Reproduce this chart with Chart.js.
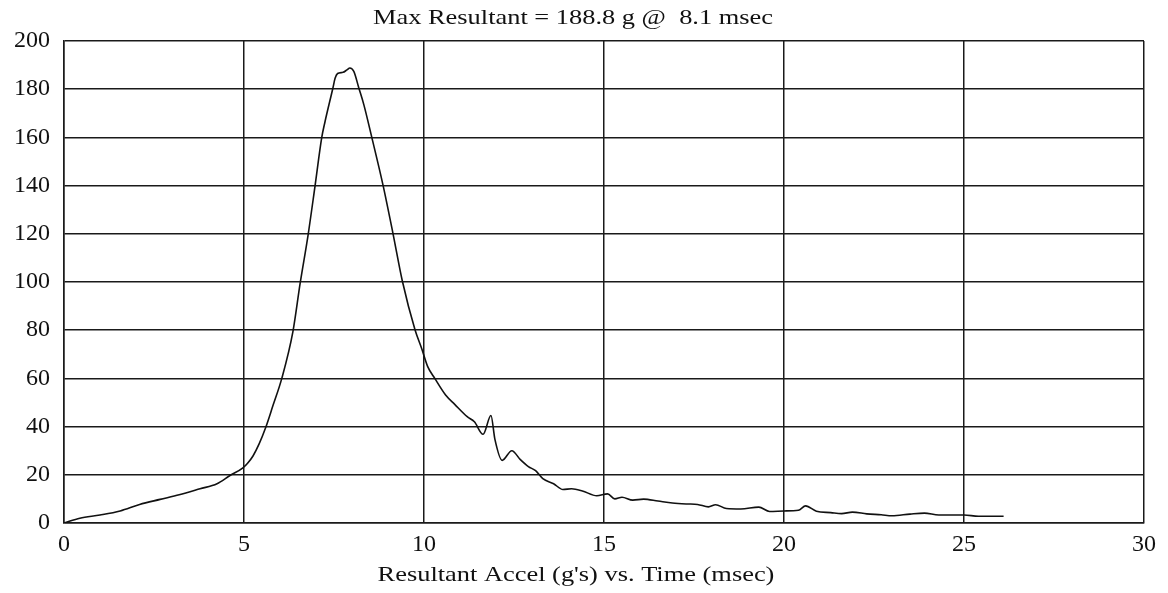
<!DOCTYPE html>
<html>
<head>
<meta charset="utf-8">
<script src="https://cdn.jsdelivr.net/npm/chart.js@4/dist/chart.umd.min.js"></script>
<style>
  html, body { margin: 0; padding: 0; background: #ffffff; }
  #wrap { width: 1168px; height: 593px; }
</style>
</head>
<body>
<div id="wrap"><canvas id="c" width="1168" height="593"></canvas></div>
<script>
// Data
const chartTitle = "Max Resultant = 188.8 g @  8.1 msec";
const xAxisTitle = "Resultant Accel (g's) vs. Time (msec)";
const xTicks = [0, 5, 10, 15, 20, 25, 30];
const yTicks = [0, 20, 40, 60, 80, 100, 120, 140, 160, 180, 200];

const timeMs = [
  0, 0.44, 1.0, 1.56, 2.1, 2.67, 3.2, 3.78, 4.25, 4.6, 4.97, 5.1, 5.25, 5.42, 5.6,
  5.8, 6.05, 6.36, 6.56, 6.78, 6.97, 7.16, 7.25, 7.47, 7.53, 7.6, 7.75, 7.86, 7.94,
  8.05, 8.19, 8.33, 8.55, 8.86, 9.14, 9.4, 9.75, 9.94, 10.1, 10.3, 10.6, 10.86,
  11.2, 11.4, 11.64, 11.86, 11.97, 12.17, 12.44, 12.67, 12.9, 13.1, 13.3, 13.6,
  13.86, 14.1, 14.4, 14.8, 15.1, 15.3, 15.5, 15.8, 16.1, 16.5, 16.9, 17.3, 17.6,
  17.9, 18.1, 18.4, 18.8, 19.3, 19.6, 20.0, 20.4, 20.6, 20.9, 21.3, 21.6, 21.9,
  22.3, 22.7, 23.0, 23.5, 23.9, 24.3, 25.0, 25.4, 26.1
];
const accelG = [
  0, 2, 3.3, 5, 7.7, 9.8, 11.7, 14.2, 16.3, 19.6, 22.9, 24.8, 27.8, 32.8, 39.5,
  48.5, 60, 79.5, 99.5, 119.5, 139.5, 160, 166.5, 180.5, 184.5, 186.5, 187, 188, 188.8,
  187.4, 180.5, 173.5, 160, 140.3, 120, 100.3, 80.2, 72.2, 65, 60, 53.1, 49.1,
  44.1, 42, 36.8, 44.6, 34.7, 26, 30, 26.4, 23.4, 21.7, 18.4, 16.3,
  13.9, 14.2, 13.3, 11.3, 12.1, 10, 10.7, 9.5, 9.9, 9.1, 8.3, 7.9, 7.7,
  6.7, 7.6, 6.0, 5.8, 6.6, 4.8, 5.0, 5.3, 7.1, 4.9, 4.3, 3.9, 4.5,
  3.8, 3.4, 3.0, 3.7, 4.1, 3.3, 3.3, 2.8, 2.8
];

const serif = "'Liberation Serif', 'Times New Roman', serif";

// draws the two titles, slightly widened like the scanned original
const titlePlugin = {
  id: 'titles',
  afterDraw(chart) {
    const ctx = chart.ctx;
    const drawWide = (text, cx, cy, size) => {
      ctx.save();
      ctx.font = size + "px " + serif;
      ctx.fillStyle = "#111";
      ctx.textAlign = "center";
      ctx.textBaseline = "middle";
      ctx.translate(cx, cy);
      ctx.scale(1.2, 1);
      ctx.fillText(text, 0, 0);
      ctx.restore();
    };
    drawWide(chartTitle, 573, 18, 22);
    drawWide(xAxisTitle, 576, 575, 22);
  }
};

new Chart(document.getElementById('c'), {
  type: 'line',
  data: {
    datasets: [{
      data: timeMs.map((t, i) => ({ x: t, y: accelG[i] })),
      borderColor: '#111',
      borderWidth: 1.6,
      pointRadius: 0,
      fill: false,
      cubicInterpolationMode: 'monotone'
    }]
  },
  options: {
    responsive: false,
    animation: false,
    layout: { padding: { left: 0, right: 24, top: 41, bottom: 0 } },
    plugins: { legend: { display: false }, tooltip: { enabled: false } },
    scales: {
      x: {
        type: 'linear',
        min: 0, max: 30,
        afterBuildTicks(scale) { scale.ticks = xTicks.map(v => ({ value: v })); },
        afterFit(scale) { scale.height = 70; },
        grid: { color: '#1a1a1a', lineWidth: 1.5, drawTicks: false },
        border: { color: '#1a1a1a', width: 1.5 },
        ticks: { color: '#111', font: { family: serif, size: 24 }, padding: 7, maxRotation: 0 }
      },
      y: {
        min: 0, max: 200,
        afterBuildTicks(scale) { scale.ticks = yTicks.map(v => ({ value: v })); },
        afterFit(scale) { scale.width = 64; },
        grid: { color: '#1a1a1a', lineWidth: 1.5, drawTicks: false },
        border: { color: '#1a1a1a', width: 1.5 },
        ticks: { color: '#111', font: { family: serif, size: 24 }, padding: 14 }
      }
    }
  },
  plugins: [titlePlugin]
});
</script>
</body>
</html>
